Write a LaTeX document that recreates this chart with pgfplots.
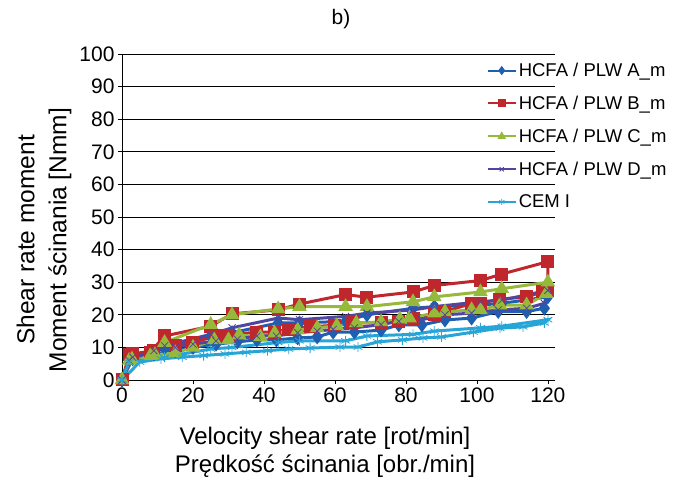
\documentclass[border=0pt]{standalone}
\usepackage{fontspec}
\setmainfont{Liberation Sans}
\usepackage{pgfplots}
\pgfplotsset{compat=1.18}

\definecolor{cA}{RGB}{31,95,175}
\definecolor{cB}{RGB}{192,39,45}
\definecolor{cC}{RGB}{150,185,60}
\definecolor{cD}{RGB}{80,70,160}
\definecolor{cE}{RGB}{40,165,215}

\begin{document}
\begin{tikzpicture}
\useasboundingbox (0,0) rectangle (685pt,479pt);
\begin{axis}[
  at={(122pt,99pt)}, anchor=south west,
  scale only axis, width=433pt, height=326pt,
  xmin=0, xmax=122, ymin=0, ymax=100,
  axis x line*=bottom, axis y line*=left,
  axis line style={black, line width=0.8pt, -},
  xtick={0,20,...,120}, ytick={0,10,...,100},
  ymajorgrids, grid style={black, line width=0.8pt},
  tick style={black, line width=0.8pt}, major tick length=4pt, tick align=outside,
  tick label style={font=\fontsize{21}{23}\selectfont},
  /pgf/number format/assume math mode=true,
  clip=false,
  every axis plot/.append style={line width=3pt},
  legend style={at={(0.835,0.985)}, anchor=north west, draw=none, fill=none,
    font=\fontsize{18.5}{20}\selectfont, row sep=14pt,
    /tikz/every even column/.append style={column sep=9pt}},
  legend cell align=left,
  legend image code/.code={\draw[mark repeat=2,mark phase=2,line width=2pt,mark size=3pt] plot coordinates {(0pt,0pt) (14pt,0pt) (28pt,0pt)};},
]
\addplot[color=cA, mark=diamond*, mark size=5pt] coordinates {
 (0,0) (2,6.5) (12,10) (25,13.5) (31,14.5) (44,17.5) (50,17.5) (63,18) (69,20) (82,22) (88,22.5) (101,23) (107,23.5) (120,25.5)
 (119,22) (114,21) (106,21) (98.5,19) (91,18.4) (84.5,16.9) (78,16.9) (73,15.3) (65.5,14.7) (59.5,14.7) (55,13.2) (49.5,12.9) (43.5,12.3) (38,12.3) (32.5,11.7) (26.5,11) (20,10) (15,9) (9,8) (3,6.5) (0,0)};
\addlegendentry{HCFA / PLW A\_m}
\addplot[color=cB, mark=square*, mark size=5pt] coordinates {
 (0,0) (2,7.7) (8,8.5) (12,13.5) (25,16.5) (31,20.3) (44,21.5) (50,23.3) (63,26.2) (69,25.4) (82,27) (88,29) (101,30.5) (107,32.5) (120,36.3)
 (120,27.5) (118.5,27) (114,25.5) (106.5,24.8) (101,23.6) (98.5,23.5) (91,21) (88,20) (82,19) (78,17.8) (73,17.6) (65,17.5) (60,16.8) (53,16.3) (47,15.6) (43,14.7) (38,14.7) (30,13.8) (26.5,13.5) (20,11.5) (15,10.5) (9,9) (3,8) (0,0)};
\addlegendentry{HCFA / PLW B\_m}
\addplot[color=cC, mark=triangle*, mark size=5.5pt] coordinates {
 (0,0) (2,6) (8,7.5) (12,11.5) (25,17) (31,20) (44,21.8) (50,22.5) (63,22.5) (69,22.5) (82,24) (88,25.5) (101,27) (107,28) (120,30)
 (119.5,26.5) (114,23) (106.5,23) (101,21.5) (98.5,21.5) (91,20.9) (88,20.5) (81,19) (78.3,18.7) (73,17.8) (66,17.5) (60.5,16.6) (55,16) (49.5,15.3) (43,14.4) (39,13.2) (33,13.8) (30,12.3) (26,12.3) (20,10) (15,8.3) (9.3,7.7) (2.8,6.4) (0,0)};
\addlegendentry{HCFA / PLW C\_m}
\addplot[color=cD, mark=x, mark size=5pt, mark options={line width=0.8pt}] coordinates {
 (0,0) (2,6) (12,10.5) (25,14) (31,16) (44,19) (50,18.5) (63,19.5) (69,20.5) (82,21.5) (88,22.5) (101,24) (107,24.5) (120,27.5)
 (119,23.5) (114,22) (106,21.5) (98.5,20.5) (91,20) (84.5,18.5) (78,18) (73,17) (65.5,16) (59.5,15.5) (55,15) (49.5,14.5) (43.5,13.5) (38,13.5) (32.5,12.5) (26.5,12) (20,11) (15,10) (9,9) (3,7) (0,0)};
\addlegendentry{HCFA / PLW D\_m}
\addplot[color=cE, mark=asterisk, mark size=5pt, mark options={line width=0.8pt}] coordinates {
 (0,0) (2,5.5) (12,7) (25,9.5) (31,10) (44,11.5) (50,12) (63,12) (69,13.5) (82,14) (88,15) (101,16) (107,16.5) (120,18.5)
 (119,17.5) (113,16.3) (106.5,15.9) (99,14.7) (90,13.2) (84.8,12.9) (79,12.3) (72,11.7) (66.5,10.1) (61.4,10.1) (53,9.8) (47,9.5) (41,9) (35,8.5) (29,8) (23,7.5) (17,7) (11,6.5) (5,5.5) (0,0)};
\addlegendentry{CEM I}
\end{axis}
\node[font=\fontsize{21}{24}\selectfont] at (341pt,460pt) {b)};
\node[rotate=90, align=center, font=\fontsize{24.5}{32}\selectfont] at (44pt,239pt) {Shear rate moment\\Moment ścinania [Nmm]};
\node[align=center, font=\fontsize{24}{28}\selectfont] at (325pt,27pt) {Velocity shear rate [rot/min]\\Prędkość ścinania [obr./min]};
\end{tikzpicture}
\end{document}
